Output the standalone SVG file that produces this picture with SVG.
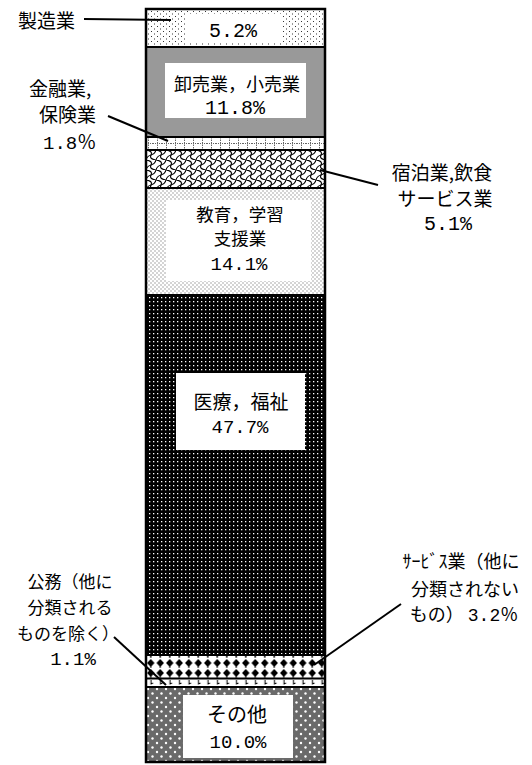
<svg xmlns="http://www.w3.org/2000/svg" width="532" height="765" viewBox="0 0 532 765">
<style>
.jp{font-family:"Noto Sans CJK JP","Noto Sans",sans-serif;fill:#000}
.num{font-family:"Liberation Mono","Noto Sans CJK JP",monospace;fill:#000}
.sep{stroke:#000;stroke-width:2}
.lead{stroke:#000;stroke-width:2;fill:none}
.box{fill:#fff}
</style>
<defs>
<pattern id="pMfg" width="6" height="5" patternUnits="userSpaceOnUse">
<rect width="6" height="5" fill="#fff"/>
<rect x="1" y="1" width="1" height="1" fill="#333"/>
<rect x="4" y="3.5" width="1" height="1" fill="#333"/>
</pattern>
<pattern id="pFin" width="9" height="13" patternUnits="userSpaceOnUse" y="137">
<rect width="9" height="13" fill="#fff"/>
<line x1="4.5" y1="0" x2="4.5" y2="13" stroke="#666" stroke-width="1" stroke-dasharray="1.5,1"/>
<line x1="0" y1="6.5" x2="9" y2="6.5" stroke="#666" stroke-width="1" stroke-dasharray="1,1"/>
</pattern>
<pattern id="pHotel" width="10" height="10" patternUnits="userSpaceOnUse" x="146" y="150">
<rect width="10" height="10" fill="#fff"/>
<path d="M0,0 Q7,1 5,5 T10,10" fill="none" stroke="#000" stroke-width="1.1"/>
<path d="M10,0 Q9,4 5,5 T0,10" fill="none" stroke="#000" stroke-width="1.1"/>
</pattern>
<pattern id="pEdu" width="4" height="4" patternUnits="userSpaceOnUse">
<rect width="4" height="4" fill="#fff"/>
<rect x="0.5" y="0.5" width="1" height="1" fill="#555"/>
<rect x="2.5" y="2.5" width="1" height="1" fill="#555"/>
</pattern>
<pattern id="pMed" width="4" height="4" patternUnits="userSpaceOnUse">
<rect width="4" height="4" fill="#000"/>
<rect x="1" y="1" width="1.3" height="1.3" fill="#fff"/>
</pattern>
<pattern id="pSvc" width="9.5" height="10" patternUnits="userSpaceOnUse" x="146" y="658">
<rect width="9.5" height="10" fill="#fff"/>
<path d="M4.75,1 L8.5,5 L4.75,9 L1,5Z" fill="#000"/>
<line x1="4.75" y1="8" x2="4.75" y2="11" stroke="#000" stroke-width="1"/>
</pattern>
<pattern id="pPub" width="9.5" height="9" patternUnits="userSpaceOnUse" x="146" y="679">
<rect width="9.5" height="9" fill="#fff"/>
<path d="M5,1 V5 L7,4" fill="none" stroke="#000" stroke-width="1"/>
</pattern>
<pattern id="pOth" width="9" height="9" patternUnits="userSpaceOnUse" x="146" y="687">
<rect width="9" height="9" fill="#6a6a6a"/>
<circle cx="2" cy="2" r="1.2" fill="#fff"/>
<circle cx="6.5" cy="6.5" r="1.2" fill="#fff"/>
</pattern>
</defs>
<rect width="532" height="765" fill="#fff"/>

<g id="seg-manufacturing">
<rect x="146" y="9" width="179" height="38" fill="url(#pMfg)"/>
<rect class="box" x="186" y="14" width="97" height="29"/>
<text class="num" x="233" y="37" font-size="20" text-anchor="middle">5.2%</text>
<text class="jp" x="18" y="28" font-size="19">製造業</text>
</g>

<g id="seg-wholesale">
<rect x="146" y="47" width="179" height="90" fill="#999"/>
<rect class="box" x="165" y="63" width="141" height="55"/>
<text class="jp" x="237" y="91" font-size="18" text-anchor="middle">卸売業，小売業</text>
<text class="num" x="235" y="114" font-size="20" text-anchor="middle">11.8%</text>
</g>

<g id="seg-finance">
<rect x="146" y="137" width="179" height="13" fill="url(#pFin)"/>
<text class="jp" x="29" y="96" font-size="19">金融業,</text>
<text class="jp" x="39" y="122" font-size="19">保険業</text>
<text class="num" x="43" y="149" font-size="19">1.8％</text>
</g>

<g id="seg-hotel">
<rect x="146" y="150" width="179" height="38" fill="url(#pHotel)"/>
<text class="jp" x="442" y="180" font-size="19" text-anchor="middle">宿泊業,飲食</text>
<text class="jp" x="445" y="206" font-size="19" text-anchor="middle">サービス業</text>
<text class="num" x="448" y="230" font-size="20" text-anchor="middle">5.1%</text>
</g>

<g id="seg-education">
<rect x="146" y="188" width="179" height="107" fill="url(#pEdu)"/>
<rect class="box" x="166" y="200" width="145" height="81"/>
<text class="jp" x="240" y="221" font-size="17.5" text-anchor="middle">教育，学習</text>
<text class="jp" x="240" y="245" font-size="17.5" text-anchor="middle">支援業</text>
<text class="num" x="239" y="270" font-size="19" text-anchor="middle">14.1%</text>
</g>

<g id="seg-medical">
<rect x="146" y="295" width="179" height="360" fill="url(#pMed)"/>
<rect class="box" x="176" y="373" width="129" height="77"/>
<text class="jp" x="241" y="409" font-size="19" text-anchor="middle">医療，福祉</text>
<text class="num" x="240" y="433" font-size="19" text-anchor="middle">47.7%</text>
</g>

<g id="seg-service">
<rect x="146" y="655" width="179" height="23" fill="url(#pSvc)"/>
<text class="jp" x="461" y="568" font-size="18" text-anchor="middle">ｻｰﾋﾞｽ業（他に</text>
<text class="jp" x="465" y="596" font-size="18" text-anchor="middle">分類されない</text>
<text class="jp" x="464" y="621" font-size="18" text-anchor="middle">もの） <tspan class="num">3.2％</tspan></text>
</g>

<g id="seg-public">
<rect x="146" y="679" width="179" height="8" fill="url(#pPub)"/>
<text class="jp" x="70" y="588" font-size="17" text-anchor="middle">公務（他に</text>
<text class="jp" x="70" y="614" font-size="17" text-anchor="middle">分類される</text>
<text class="jp" x="68" y="640" font-size="17" text-anchor="middle">ものを除く）</text>
<text class="num" x="73" y="665" font-size="19" text-anchor="middle">1.1%</text>
</g>

<g id="seg-other">
<rect x="146" y="687" width="179" height="75" fill="url(#pOth)"/>
<rect class="box" x="183" y="695" width="110" height="63"/>
<text class="jp" x="237" y="722" font-size="20" text-anchor="middle">その他</text>
<text class="num" x="238" y="748" font-size="19" text-anchor="middle">10.0%</text>
</g>

<g id="bar-frame">
<line class="sep" x1="146" y1="47" x2="325" y2="47"/>
<line class="sep" x1="146" y1="137" x2="325" y2="137"/>
<line class="sep" x1="146" y1="150" x2="325" y2="150"/>
<line class="sep" x1="146" y1="188" x2="325" y2="188"/>
<line class="sep" x1="146" y1="295" x2="325" y2="295"/>
<line class="sep" x1="146" y1="655" x2="325" y2="655"/>
<line class="sep" x1="146" y1="678.5" x2="325" y2="678.5"/>
<line class="sep" x1="146" y1="687" x2="325" y2="687"/>
<rect x="146" y="9" width="179" height="753" fill="none" stroke="#000" stroke-width="2.5"/>
</g>

<g id="connectors">
<line class="lead" x1="84" y1="19" x2="171" y2="20"/>
<line class="lead" x1="108" y1="116" x2="168" y2="141"/>
<line class="lead" x1="378" y1="185" x2="320" y2="170"/>
<line class="lead" x1="401" y1="604" x2="314" y2="665"/>
<line class="lead" x1="114" y1="637" x2="166" y2="685"/>
</g>
</svg>
